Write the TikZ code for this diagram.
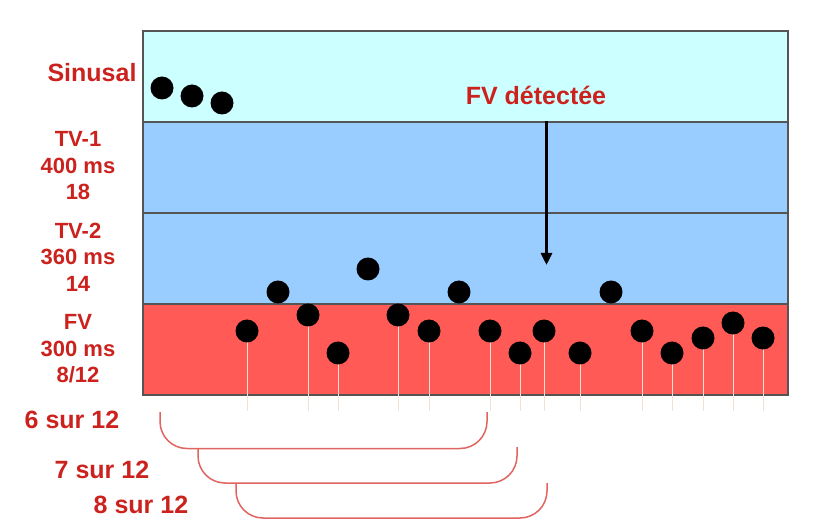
\documentclass[tikz,border=0pt]{standalone}
\usepackage{fontspec}
\setmainfont{Liberation Sans}
\usetikzlibrary{arrows.meta}
\definecolor{lbl}{RGB}{204,34,30}
\definecolor{sinus}{RGB}{204,255,255}
\definecolor{tvband}{RGB}{153,204,255}
\definecolor{fvband}{RGB}{255,90,85}
\definecolor{edge}{RGB}{85,85,85}
\definecolor{stemc}{RGB}{240,226,214}
\definecolor{brk}{RGB}{224,100,95}
\begin{document}
\begin{tikzpicture}[x=1pt,y=-1pt,
  lab/.style={text=lbl, font=\bfseries\fontsize{22}{26.5}\selectfont, align=center, inner sep=0pt},
  biglab/.style={text=lbl, font=\bfseries\fontsize{25}{30}\selectfont, inner sep=0pt},
  dot/.style={circle, fill=black, draw=none, inner sep=0pt, minimum size=23pt},
  stem/.style={draw=stemc, line width=1pt},
  bracket/.style={draw=brk, line width=1.5pt, rounded corners=27pt},
  bandline/.style={draw=edge, line width=1.2pt}]
\useasboundingbox (0,0) rectangle (817,529);
% bands
\fill[sinus] (143,31) rectangle (788,122);
\fill[tvband] (143,122) rectangle (788,304);
\fill[fvband] (143,304) rectangle (788,395);
\draw[bandline] (143,122) -- (788,122);
\draw[bandline] (143,213) -- (788,213);
\draw[bandline] (143,304) -- (788,304);
\draw[bandline] (143,31) rectangle (788,395);
% labels
\node[biglab] (sinusal) at (92,73) {Sinusal};
\node[lab] (tv1) at (78,166) {TV-1\\400 ms\\18};
\node[lab] (tv2) at (78,257) {TV-2\\360 ms\\14};
\node[lab] (fv) at (78,349) {FV\\300 ms\\8/12};
\node[biglab] (det) at (536,95) {FV détectée};
\node[biglab] (s6) at (72,420) {6 sur 12};
\node[biglab] (s7) at (102,470) {7 sur 12};
\node[biglab] (s8) at (141,505) {8 sur 12};
% arrow
\coordinate (atop) at (546.5,121);
\coordinate (abot) at (546.5,265);
\draw[line width=3pt, -{Triangle[length=12pt,width=11pt]}] (atop) -- (abot);
% stems foot
\coordinate (foot) at (0,411);
% FV dots with stems
\foreach \n/\x/\y in {f1/247/331, f2/308/315, f3/338/353, f4/398/315, f5/429/331, f6/490/331, f7/520/353, f8/544/331, f9/580/353, f10/642/331, f11/672/353, f12/703/338, f13/733/323, f14/763/338}{
  \coordinate (\n c) at (\x,\y);
  \draw[stem] (\n c) -- (\n c |- foot);
  \node[dot] (\n) at (\n c) {};
}
% sinus dots
\node[dot] (s1) at (162,88) {};
\node[dot] (s2) at (192,96) {};
\node[dot] (s3) at (222,103) {};
% TV-2 dots
\node[dot] (t1) at (278,292) {};
\node[dot] (t2) at (368,269) {};
\node[dot] (t3) at (459,292) {};
\node[dot] (t4) at (611,292) {};
% brackets
\coordinate (b1l) at (160,412);
\coordinate (b1r) at (487,412);
\coordinate (b2l) at (198,448.5);
\coordinate (b2r) at (517,447);
\coordinate (b3l) at (236,483);
\coordinate (b3r) at (547,483);
\draw[bracket] (b1l) -- ++(0,36.5) -| (b1r);
\draw[bracket] (b2l) -- ++(0,34.5) -| (b2r);
\draw[bracket] (b3l) -- ++(0,35) -| (b3r);
\end{tikzpicture}
\end{document}
